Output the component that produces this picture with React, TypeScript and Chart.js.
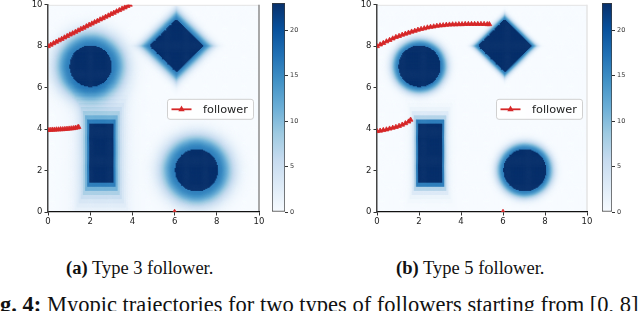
import React, { useEffect, useRef } from 'react';
import { Chart, registerables } from 'chart.js';

Chart.register(...registerables);

// ---------- data ----------
const AXIS_MIN = 0;
const AXIS_MAX = 10;
const AXIS_STEP = 2;
const CBAR_MAX = 23;
const CBAR_STEP = 5;
const SUBCAPTIONS = ['Type 3 follower.', 'Type 5 follower.'];
const SUBLABELS = ['(a)', '(b)'];
const LEGEND_LABEL = 'follower';

// obstacles (shared by both panels)
const circleX = [2.02, 7.04];
const circleY = [7.07, 2.05];
const circleR = [1.0, 1.02];
const diamondX = [6.08];
const diamondY = [8.05];
const diamondH = [1.28];
const rectX0 = [1.95];
const rectX1 = [3.12];
const rectY0 = [1.45];
const rectY1 = [4.28];

// how far the cost spreads around obstacles, per follower type (a, b)
const edgeCost = [16, 16];
const circleSpread = [0.72, 0.36];
const diamondSpread = [0.5, 0.28];
const rectSpread = [0.27, 0.12];

// trajectories, type 3 follower
const t3PathAX = [0, 0.13, 0.26, 0.39, 0.52, 0.65, 0.78, 0.91, 1.04, 1.17, 1.3, 1.43, 1.56, 1.69, 1.82, 1.95, 2.08, 2.21, 2.34, 2.47, 2.6, 2.73, 2.86, 2.99, 3.12, 3.25, 3.38, 3.51, 3.64, 3.77, 3.88];
const t3PathAY = [8.0, 8.07, 8.14, 8.21, 8.28, 8.35, 8.42, 8.49, 8.56, 8.62, 8.69, 8.76, 8.83, 8.89, 8.96, 9.03, 9.09, 9.16, 9.22, 9.29, 9.35, 9.42, 9.48, 9.55, 9.61, 9.68, 9.74, 9.81, 9.87, 9.94, 10.0];
const t3PathBX = [0, 0.1, 0.2, 0.3, 0.4, 0.5, 0.6, 0.7, 0.8, 0.9, 1.0, 1.1, 1.2, 1.3, 1.4, 1.45];
const t3PathBY = [3.95, 3.96, 3.97, 3.97, 3.98, 3.98, 3.99, 3.99, 4.0, 4.01, 4.02, 4.03, 4.04, 4.06, 4.08, 4.1];

// trajectories, type 5 follower
const t5PathAX = [0, 0.15, 0.3, 0.45, 0.6, 0.75, 0.9, 1.05, 1.2, 1.35, 1.5, 1.65, 1.8, 1.95, 2.1, 2.25, 2.4, 2.55, 2.7, 2.85, 3.0, 3.15, 3.3, 3.45, 3.6, 3.75, 3.9, 4.05, 4.2, 4.35, 4.5, 4.65, 4.8, 4.95, 5.1, 5.25, 5.35];
const t5PathAY = [8.0, 8.08, 8.15, 8.23, 8.3, 8.37, 8.44, 8.49, 8.55, 8.6, 8.65, 8.7, 8.74, 8.79, 8.83, 8.86, 8.9, 8.93, 8.95, 8.98, 9.0, 9.01, 9.03, 9.04, 9.05, 9.05, 9.06, 9.06, 9.07, 9.07, 9.07, 9.07, 9.07, 9.07, 9.07, 9.06, 9.06];
const t5PathBX = [0, 0.15, 0.3, 0.45, 0.6, 0.75, 0.9, 1.05, 1.2, 1.35, 1.5, 1.6];
const t5PathBY = [3.9, 3.92, 3.95, 3.98, 4.02, 4.06, 4.1, 4.15, 4.21, 4.28, 4.36, 4.45];

const markerX = [6];
const markerY = [0];

const pathAX = [t3PathAX, t5PathAX];
const pathAY = [t3PathAY, t5PathAY];
const pathBX = [t3PathBX, t5PathBX];
const pathBY = [t3PathBY, t5PathBY];

// ---------- style ----------
const RED = '#d62728';
const BLUES = ['#f7fbff', '#deebf7', '#c6dbef', '#9ecae1', '#6baed6', '#4292c6', '#2171b5', '#08519c', '#08306b'];
const TICK_FONT = "'DejaVu Sans', sans-serif";
const SERIF = "'Times New Roman', 'Liberation Serif', Tinos, Times, 'DejaVu Serif', serif";
const CELL = 0.05;
const NCELL = Math.round((AXIS_MAX - AXIS_MIN) / CELL);

const mainLeft = [0, 329];
const mainRightPad = [11, 12];
const cbLeft = [262, 592];
const cbWidth = [50, 48];
const cbAxisW = [27, 28];
const rightSpine = ['#8c8c8c', '#e4e4e4'];
const subLeft = [66, 396];

function hexToRgb(h: string) {
  return [parseInt(h.slice(1, 3), 16), parseInt(h.slice(3, 5), 16), parseInt(h.slice(5, 7), 16)];
}
const BLUES_RGB = BLUES.map(hexToRgb);

function bluesColor(t: number) {
  const c = Math.max(0, Math.min(1, t)) * 8;
  const i = Math.min(7, Math.floor(c));
  const u = c - i;
  const a = BLUES_RGB[i];
  const b = BLUES_RGB[i + 1];
  return `rgb(${Math.round(a[0] + (b[0] - a[0]) * u)},${Math.round(a[1] + (b[1] - a[1]) * u)},${Math.round(a[2] + (b[2] - a[2]) * u)})`;
}

function costAt(x: number, y: number, p: number) {
  let v = 0;
  const A = edgeCost[p];
  for (let k = 0; k < circleX.length; k++) {
    const d = Math.hypot(x - circleX[k], y - circleY[k]) - circleR[k];
    if (d <= 0) return CBAR_MAX;
    const q = d / circleSpread[p];
    v += A * Math.exp(-q * q);
  }
  for (let k = 0; k < diamondX.length; k++) {
    const d = Math.abs(x - diamondX[k]) + Math.abs(y - diamondY[k]) - diamondH[k];
    if (d <= 0) return CBAR_MAX;
    const q = d / diamondSpread[p];
    v += A * Math.exp(-q * q);
  }
  for (let k = 0; k < rectX0.length; k++) {
    const dx = Math.max(rectX0[k] - x, 0, x - rectX1[k]);
    const dy = Math.max(rectY0[k] - y, 0, y - rectY1[k]);
    if (dx === 0 && dy === 0) return CBAR_MAX;
    const d = Math.max(Math.floor(dx / 0.1), Math.floor(dy / 0.2)) * 0.1;
    v += A * Math.exp(-d / rectSpread[p]);
  }
  return Math.min(v, CBAR_MAX);
}

function heatColors(p: number) {
  const out: string[] = [];
  for (let j = 0; j < NCELL; j++) {
    for (let i = 0; i < NCELL; i++) {
      const x = AXIS_MIN + (i + 0.5) * CELL;
      const y = AXIS_MIN + (j + 0.5) * CELL;
      out.push(bluesColor(costAt(x, y, p) / CBAR_MAX));
    }
  }
  return out;
}

function pts(xs: number[], ys: number[]) {
  return xs.map((x, i) => ({ x, y: ys[i] }));
}

function drawTriangle(ctx: CanvasRenderingContext2D, x: number, y: number, r: number) {
  ctx.beginPath();
  ctx.moveTo(x, y - r * 1.15);
  ctx.lineTo(x + r, y + r * 0.6);
  ctx.lineTo(x - r, y + r * 0.6);
  ctx.closePath();
  ctx.fill();
}

function makeHeatPlugin(colors: string[], p: number) {
  return {
    id: 'heat' + p,
    beforeDraw(chart: any) {
      const { ctx, chartArea: ca, scales } = chart;
      const xs = scales.x;
      const ys = scales.y;
      const px: number[] = [];
      const py: number[] = [];
      for (let i = 0; i <= NCELL; i++) {
        px.push(xs.getPixelForValue(AXIS_MIN + i * CELL));
        py.push(ys.getPixelForValue(AXIS_MIN + i * CELL));
      }
      ctx.save();
      ctx.beginPath();
      ctx.rect(ca.left, ca.top, ca.right - ca.left, ca.bottom - ca.top);
      ctx.clip();
      for (let j = 0; j < NCELL; j++) {
        for (let i = 0; i < NCELL; i++) {
          ctx.fillStyle = colors[j * NCELL + i];
          ctx.fillRect(px[i], py[j + 1], px[i + 1] - px[i] + 0.6, py[j] - py[j + 1] + 0.6);
        }
      }
      ctx.restore();
      ctx.save();
      ctx.strokeStyle = '#e4e4e4';
      ctx.lineWidth = 1;
      ctx.beginPath();
      ctx.moveTo(ca.left, ca.top + 0.5);
      ctx.lineTo(ca.right, ca.top + 0.5);
      ctx.stroke();
      ctx.strokeStyle = rightSpine[p];
      ctx.lineWidth = 1.5;
      ctx.beginPath();
      ctx.moveTo(ca.right, ca.top);
      ctx.lineTo(ca.right, ca.bottom);
      ctx.stroke();
      ctx.restore();
    },
  };
}

const legendPlugin = {
  id: 'followerLegend',
  afterDatasetsDraw(chart: any) {
    const { ctx, chartArea: ca } = chart;
    const ds = chart.data.datasets[0];
    const bx = ca.left + 119.5;
    const by = ca.top + 94.5;
    const bw = 86;
    const bh = 20;
    ctx.save();
    ctx.beginPath();
    if (ctx.roundRect) ctx.roundRect(bx, by, bw, bh, 2.5);
    else ctx.rect(bx, by, bw, bh);
    ctx.fillStyle = 'rgba(255,255,255,0.85)';
    ctx.fill();
    ctx.strokeStyle = '#d0d0d0';
    ctx.lineWidth = 1;
    ctx.stroke();
    const cy = by + bh / 2;
    ctx.strokeStyle = ds.borderColor;
    ctx.lineWidth = 1.8;
    ctx.beginPath();
    ctx.moveTo(bx + 4, cy);
    ctx.lineTo(bx + 24, cy);
    ctx.stroke();
    ctx.fillStyle = ds.backgroundColor;
    drawTriangle(ctx, bx + 14, cy, 3.2);
    ctx.fillStyle = '#222';
    ctx.font = `11.3px ${TICK_FONT}`;
    ctx.textBaseline = 'middle';
    ctx.textAlign = 'left';
    ctx.fillText(ds.label, bx + 35.5, cy + 0.5);
    ctx.restore();
  },
};

function Panel({ p }: { p: number }) {
  const mainRef = useRef<HTMLCanvasElement>(null);
  const cbRef = useRef<HTMLCanvasElement>(null);

  useEffect(() => {
    const colors = heatColors(p);
    const lineStyle = {
      showLine: true,
      borderColor: RED,
      backgroundColor: RED,
      borderWidth: 1.8,
      pointStyle: 'triangle' as const,
      pointRadius: 2.8,
      pointBorderWidth: 0.8,
      pointBorderColor: RED,
      pointBackgroundColor: RED,
    };
    const main = new Chart(mainRef.current!, {
      type: 'scatter',
      data: {
        datasets: [
          { label: LEGEND_LABEL, data: pts(pathAX[p], pathAY[p]), ...lineStyle },
          { label: LEGEND_LABEL, data: pts(pathBX[p], pathBY[p]), ...lineStyle },
          { label: LEGEND_LABEL, data: pts(markerX, markerY), ...lineStyle, showLine: false },
        ],
      },
      options: {
        animation: false,
        responsive: false,
        events: [],
        layout: { padding: { left: 0, top: 3, right: mainRightPad[p], bottom: 0 } },
        plugins: { legend: { display: false }, tooltip: { enabled: false } },
        scales: {
          x: {
            type: 'linear',
            min: AXIS_MIN,
            max: AXIS_MAX,
            ticks: { stepSize: AXIS_STEP, maxRotation: 0, color: '#222', font: { family: TICK_FONT, size: 8.5 }, padding: 1 },
            grid: { display: true, drawOnChartArea: false, drawTicks: true, tickLength: 3.5, color: '#333' },
            border: { display: true, color: '#111', width: 1.3 },
            afterFit: (s: any) => {
              s.height = 20;
              s.paddingLeft = 0;
              s.paddingRight = 0;
            },
          },
          y: {
            type: 'linear',
            min: AXIS_MIN,
            max: AXIS_MAX,
            ticks: { stepSize: AXIS_STEP, color: '#222', font: { family: TICK_FONT, size: 8.5 }, padding: 2 },
            grid: { display: true, drawOnChartArea: false, drawTicks: true, tickLength: 3.5, color: '#333' },
            border: { display: true, color: '#444', width: 1.5 },
            afterFit: (s: any) => {
              s.width = 48;
              s.paddingTop = 0;
              s.paddingBottom = 0;
            },
          },
        },
      },
      plugins: [makeHeatPlugin(colors, p), legendPlugin],
    });

    const cb = new Chart(cbRef.current!, {
      type: 'bar',
      data: {
        labels: ['cost'],
        datasets: [
          {
            data: [[0, CBAR_MAX]] as any,
            backgroundColor: (ctx: any) => {
              const ca = ctx.chart.chartArea;
              if (!ca) return BLUES[4];
              const g = ctx.chart.ctx.createLinearGradient(0, ca.bottom, 0, ca.top);
              BLUES.forEach((c, i) => g.addColorStop(i / (BLUES.length - 1), c));
              return g;
            },
            borderColor: '#3a3a3a',
            borderWidth: 1,
            borderSkipped: false,
            barPercentage: 1,
            categoryPercentage: 1,
          },
        ],
      },
      options: {
        animation: false,
        responsive: false,
        events: [],
        layout: { padding: { left: 10, top: 3, right: 0, bottom: 20 } },
        plugins: { legend: { display: false }, tooltip: { enabled: false } },
        scales: {
          x: { display: false },
          y: {
            position: 'right',
            min: 0,
            max: CBAR_MAX,
            ticks: { stepSize: CBAR_STEP, includeBounds: false, color: '#333', font: { family: TICK_FONT, size: 6.5 }, padding: 2 },
            grid: { display: true, drawOnChartArea: false, drawTicks: true, tickLength: 3, color: '#333' },
            border: { display: false },
            afterFit: (s: any) => {
              s.width = cbAxisW[p];
              s.paddingTop = 0;
              s.paddingBottom = 0;
            },
          },
        },
      },
    });

    return () => {
      main.destroy();
      cb.destroy();
    };
  }, [p]);

  return (
    <>
      <canvas
        ref={mainRef}
        width={270}
        height={232}
        style={{ position: 'absolute', left: mainLeft[p], top: 0, width: 270, height: 232 }}
      />
      <canvas
        ref={cbRef}
        width={cbWidth[p]}
        height={232}
        style={{ position: 'absolute', left: cbLeft[p], top: 0, width: cbWidth[p], height: 232 }}
      />
      <div
        style={{
          position: 'absolute',
          left: subLeft[p],
          top: 258.5,
          fontFamily: SERIF,
          fontSize: 18.5,
          lineHeight: '18.5px',
          whiteSpace: 'nowrap',
          color: '#111',
        }}
      >
        <b>{SUBLABELS[p]}</b> {SUBCAPTIONS[p]}
      </div>
    </>
  );
}

export default function App() {
  return (
    <div
      style={{
        position: 'fixed',
        left: 0,
        top: 0,
        width: 640,
        height: 311,
        background: '#fff',
        overflow: 'hidden',
      }}
    >
      <Panel p={0} />
      <Panel p={1} />
      <div
        style={{
          position: 'absolute',
          left: -20,
          top: 294,
          fontFamily: SERIF,
          fontSize: 22.5,
          lineHeight: '22.5px',
          whiteSpace: 'nowrap',
          color: '#111',
        }}
      >
        <b>Fig. 4:</b> Myopic trajectories for two types of followers starting from [0, 8]
      </div>
    </div>
  );
}
